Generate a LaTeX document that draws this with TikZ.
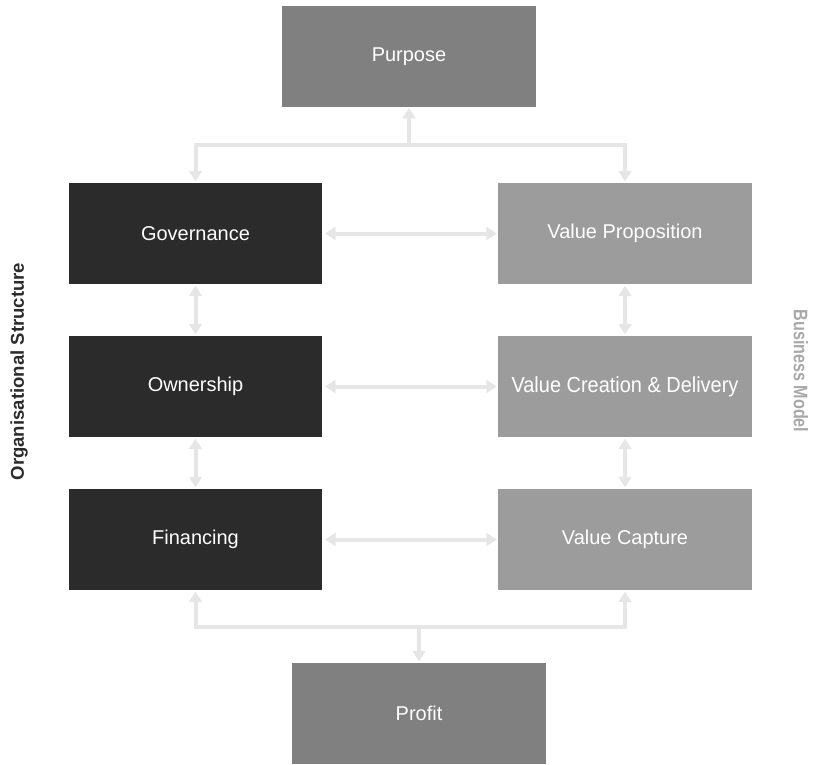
\documentclass[tikz,border=0pt]{standalone}
\usepackage{graphicx}
\usepackage{fontspec}
\setmainfont{Liberation Sans}
\usetikzlibrary{arrows.meta,positioning,calc}
\definecolor{purposegray}{HTML}{808080}
\definecolor{orgdark}{HTML}{2B2B2B}
\definecolor{bmgray}{HTML}{9C9C9C}
\definecolor{linkgray}{HTML}{E6E6E6}
\definecolor{labelgray}{HTML}{A8A8A8}
\tikzset{>={Triangle[width=0.32cm,length=0.26cm]}}

\begin{document}
\begin{tikzpicture}[x=0.025cm, y=-0.025cm,
    box/.style={rectangle, minimum width=6.325cm, minimum height=2.525cm, inner sep=0pt,
      text=white, font=\fontsize{14.2}{17}\selectfont},
    orgbox/.style={box, fill=orgdark},
    bmbox/.style={box, fill=bmgray},
    endbox/.style={box, fill=purposegray},
    link/.style={draw=linkgray, line width=0.1cm}]
    \useasboundingbox (0,0) rectangle (813,764);
    % top and bottom
    \node[endbox] (purpose) at (409,56.5) {Purpose};
    \node[endbox] (profit)  at (419,713.5) {Profit};
    % organisational structure
    \node[orgbox] (gov) at (195.5,233.5) {Governance};
    \node[orgbox] (own) at (195.5,386.5) {Ownership};
    \node[orgbox] (fin) at (195.5,539.5) {Financing};
    % business model
    \node[bmbox] (prop) at (625,233.5) {Value Proposition};
    \node[bmbox] (crea) at (625,386.5)
      {\scalebox{0.915}[1]{\fontsize{15.5}{18}\selectfont Value Creation \& Delivery}};
    \node[bmbox] (capt) at (625,539.5) {Value Capture};
    % side labels
    \node[rotate=90, text=orgdark, font=\fontsize{13.2}{16}\selectfont\bfseries]
      (orglabel) at (19,371.5) {Organisational Structure};
    \node[rotate=-90, text=labelgray, font=\fontsize{14}{17}\selectfont\bfseries]
      (bmlabel) at (801,371) {\scalebox{0.82}[1]{Business Model}};

    \coordinate (topmid) at (purpose.south |- 0,145);
    \coordinate (botmid) at (profit.north |- 0,627);

    \draw[link,->] (topmid) -- ([yshift=-0.5pt]purpose.south);
    \draw[link,->] (topmid) -| ([yshift=1pt]gov.north);
    \draw[link,->] (topmid) -| ([yshift=1pt]prop.north);

    \draw[link,->] (botmid) -- ([yshift=1pt]profit.north);
    \draw[link,->] (botmid) -| ([yshift=-1pt]fin.south);
    \draw[link,->] (botmid) -| ([yshift=-1pt]capt.south);

    \draw[link,<->] ([xshift=2pt]gov.east) -- ([xshift=-1pt]prop.west);
    \draw[link,<->] ([xshift=2pt]own.east) -- ([xshift=-1pt]crea.west);
    \draw[link,<->] ([xshift=2pt]fin.east) -- ([xshift=-1pt]capt.west);

    \draw[link,<->] ([yshift=-1pt]gov.south) -- ([yshift=1pt]own.north);
    \draw[link,<->] ([yshift=-1pt]own.south) -- ([yshift=1pt]fin.north);
    \draw[link,<->] ([yshift=-1pt]prop.south) -- ([yshift=1pt]crea.north);
    \draw[link,<->] ([yshift=-1pt]crea.south) -- ([yshift=1pt]capt.north);
\end{tikzpicture}
\end{document}
